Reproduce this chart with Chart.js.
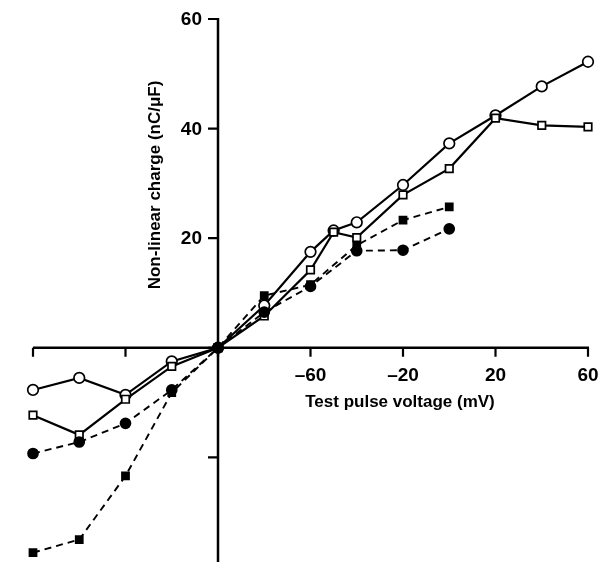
<!DOCTYPE html>
<html>
<head>
<meta charset="utf-8">
<script src="https://cdn.jsdelivr.net/npm/chart.js@4"></script>
<style>
  html, body { margin: 0; padding: 0; background: #fff; }
  #wrap { width: 602px; height: 569px; }
</style>
</head>
<body>
<div id="wrap"><canvas id="grafico" width="602" height="569"></canvas></div>
<script>
        // --- datos ---
        const voltajes = [-180, -160, -140, -120, -100, -80, -60, -50, -40, -20, 0, 20, 40, 60];
        const voltajesCortos = [-180, -160, -140, -120, -100, -80, -60, -40, -20, 0];
        const cargaCirculoAbierto = [-7.7, -5.5, -8.6, -2.5, 0, 7.7, 17.5, 21.4, 22.9, 29.7, 37.3, 42.4, 47.7, 52.2];
        const cargaCuadradoAbierto = [-12.3, -15.9, -9.4, -3.4, 0, 5.8, 14.2, 21.1, 20.1, 27.9, 32.7, 41.9, 40.6, 40.3];
        const cargaCirculoLleno = [-19.3, -17.2, -13.8, -7.7, 0, 6.5, 11.2, 17.7, 17.8, 21.7];
        const cargaCuadradoLleno = [-37.4, -35, -23.4, -8.2, 0, 9.5, 11.5, 18.7, 23.3, 25.7];

        const ticksX = [-180, -140, -100, -60, -20, 20, 60];
        const etiquetasX = [-60, -20, 20, 60];
        const ticksY = [60, 40, 20, 0, -20];
        const etiquetasY = [60, 40, 20];
        const origenX = -100, origenY = 0;

        const tituloX = 'Test pulse voltage (mV)';
        const tituloY = 'Non-linear charge (nC/\u03bcF)';
        const fuente = '"Liberation Sans", Arial, Helvetica, sans-serif';

        const puntos = (xs, ys) => xs.map((x, i) => ({ x: x, y: ys[i] }));

        // ejes cruzados en el origen, dibujados con las escalas del gráfico
        const ejesCruzados = {
            id: 'ejesCruzados',
            beforeDatasetsDraw(chart) {
                const { ctx, scales: { x, y } } = chart;
                const x0 = x.getPixelForValue(origenX);
                const y0 = y.getPixelForValue(origenY);
                ctx.save();
                ctx.strokeStyle = '#000';
                ctx.fillStyle = '#000';
                ctx.lineWidth = 2.5;
                ctx.lineCap = 'butt';
                ctx.beginPath();
                ctx.moveTo(x.getPixelForValue(x.min), y0);
                ctx.lineTo(x.getPixelForValue(x.max) + 1, y0);
                ctx.moveTo(x0, y.getPixelForValue(y.max) - 1);
                ctx.lineTo(x0, y.getPixelForValue(y.min));
                ctx.stroke();

                ctx.lineWidth = 2.2;
                ctx.beginPath();
                ticksX.forEach(v => {
                    const px = x.getPixelForValue(v);
                    ctx.moveTo(px, y0);
                    ctx.lineTo(px, y0 + 9);
                });
                ticksY.forEach(v => {
                    const py = y.getPixelForValue(v);
                    ctx.moveTo(x0, py);
                    ctx.lineTo(x0 - 10, py);
                });
                ctx.stroke();

                ctx.font = 'bold 19px ' + fuente;
                ctx.textAlign = 'center';
                ctx.textBaseline = 'middle';
                etiquetasX.forEach(v => {
                    const txt = v < 0 ? '\u2013' + Math.abs(v) : String(v);
                    ctx.fillText(txt, x.getPixelForValue(v), y0 + 28);
                });
                ctx.textAlign = 'right';
                etiquetasY.forEach(v => {
                    ctx.fillText(String(v), x0 - 16, y.getPixelForValue(v) + 1);
                });

                ctx.font = 'bold 17px ' + fuente;
                ctx.textAlign = 'center';
                ctx.fillText(tituloX, 400, y0 + 55);
                ctx.save();
                ctx.translate(155, 185);
                ctx.rotate(-Math.PI / 2);
                ctx.fillText(tituloY, 0, 0);
                ctx.restore();
                ctx.restore();
            }
        };

        const serie = (datos, estilo, lleno, guiones, radio) => ({
            data: datos,
            showLine: true,
            borderColor: '#000',
            borderWidth: guiones ? 1.9 : 2.2,
            borderDash: guiones ? [7, 5] : [],
            pointStyle: estilo,
            pointRadius: radio,
            pointBorderWidth: 1.7,
            pointBorderColor: '#000',
            pointBackgroundColor: lleno ? '#000' : '#fff',
            tension: 0,
            clip: false
        });

        new Chart(document.getElementById('grafico'), {
            type: 'scatter',
            data: {
                datasets: [
                    serie(puntos(voltajesCortos, cargaCuadradoLleno), 'rect', true, true, 5),
                    serie(puntos(voltajesCortos, cargaCirculoLleno), 'circle', true, true, 5),
                    serie(puntos(voltajes, cargaCuadradoAbierto), 'rect', false, false, 5.3),
                    serie(puntos(voltajes, cargaCirculoAbierto), 'circle', false, false, 5.3)
                ]
            },
            options: {
                responsive: false,
                devicePixelRatio: 1,
                animation: false,
                layout: { padding: { left: 33, right: 14, top: 19, bottom: 0 } },
                scales: {
                    x: { type: 'linear', min: -180, max: 60, display: false },
                    y: { type: 'linear', min: -39.1, max: 60, display: false }
                },
                plugins: { legend: { display: false }, tooltip: { enabled: false } }
            },
            plugins: [ejesCruzados]
        });
</script>
</body>
</html>
